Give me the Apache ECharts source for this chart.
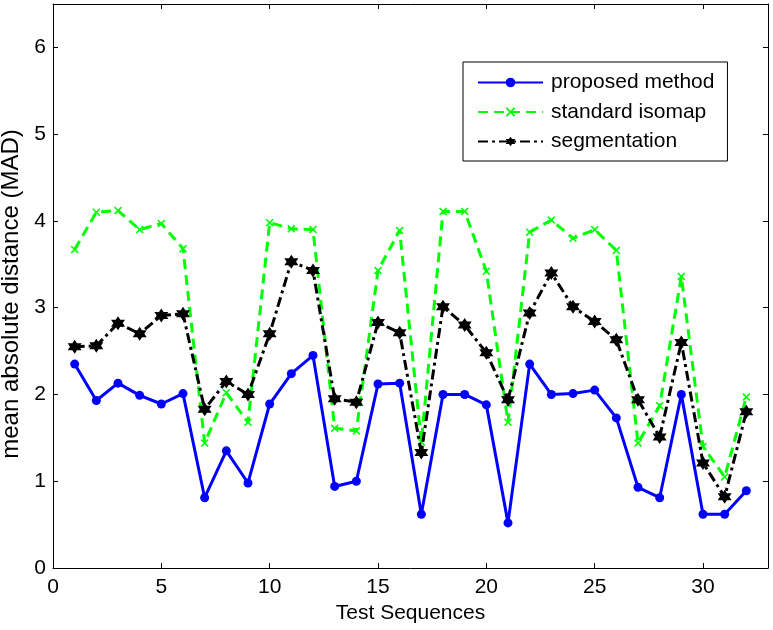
<!DOCTYPE html>
<html>
<head>
<meta charset="utf-8">
<script src="https://cdn.jsdelivr.net/npm/echarts@6/dist/echarts.min.js"></script>
<style>html,body{margin:0;padding:0;background:#fff;}#chart{width:773px;height:630px;}</style>
</head>
<body>
<div id="chart"></div>
<script>
const seqs = [1,2,3,4,5,6,7,8,9,10,11,12,13,14,15,16,17,18,19,20,21,22,23,24,25,26,27,28,29,30,31,32];
const proposed = [2.35,1.93,2.13,1.99,1.89,2.01,0.81,1.35,0.98,1.89,2.24,2.45,0.94,1.00,2.12,2.13,0.62,2.00,2.00,1.88,0.52,2.35,2.00,2.01,2.05,1.73,0.93,0.81,2.00,0.62,0.62,0.89];
const isomap = [3.67,4.10,4.12,3.90,3.97,3.68,1.44,2.02,1.68,3.98,3.91,3.90,1.61,1.58,3.43,3.89,1.45,4.11,4.11,3.42,1.68,3.87,4.01,3.80,3.90,3.66,1.44,1.87,3.36,1.40,1.05,1.97];
const segmentation = [2.55,2.56,2.82,2.70,2.91,2.93,1.83,2.15,2.00,2.70,3.53,3.43,1.95,1.91,2.83,2.71,1.33,3.01,2.80,2.48,1.94,2.94,3.40,3.01,2.84,2.63,1.94,1.51,2.60,1.21,0.82,1.80];
const seriesNames = ['proposed method','standard isomap','segmentation'];
const xTicks = {min:0, max:33, interval:5};
const yTicks = {min:0, max:6.5, interval:1};

const font = '"Liberation Sans", Arial, Helvetica, sans-serif';
const pair = arr => seqs.map((x,i)=>[x,arr[i]]);
const xSym = 'path://M0,1.4L1.4,0L5,3.6L8.6,0L10,1.4L6.4,5L10,8.6L8.6,10L5,6.4L1.4,10L0,8.6L3.6,5Z';
const hexSym = 'path://M10,0L12.89,5L18.66,5L15.77,10L18.66,15L12.89,15L10,20L7.11,15L1.34,15L4.23,10L1.34,5L7.11,5Z';

const axisCommon = {
  axisLine:{show:true, onZero:false, lineStyle:{color:'#000', width:1}},
  axisTick:{show:true, inside:true, length:5, lineStyle:{color:'#000'}},
  splitLine:{show:false}
};

const chart = echarts.init(document.getElementById('chart'));
chart.setOption({
  backgroundColor:'#fff',
  animation:false,
  textStyle:{fontFamily:font},
  grid:{left:53, right:5, top:4, bottom:62, containLabel:false, outerBoundsMode:'none'},
  legend:{
    orient:'vertical', left:463, top:62,
    padding:[10,13,9,14],
    borderColor:'#000', borderWidth:1, borderRadius:0,
    backgroundColor:'#fff',
    itemWidth:65, itemHeight:12, itemGap:8.5,
    textStyle:{fontSize:21, color:'#000', fontFamily:font, lineHeight:20, padding:[0,0,0,3]},
    data:seriesNames
  },
  xAxis:[
    Object.assign({type:'value', position:'bottom', min:xTicks.min, max:xTicks.max, interval:xTicks.interval,
      name:'Test Sequences', nameLocation:'middle', nameGap:35,
      nameTextStyle:{fontSize:21, color:'#000', fontFamily:font},
      axisLabel:{fontSize:21, color:'#000', fontFamily:font, margin:9, showMaxLabel:false}}, axisCommon),
    Object.assign({type:'value', position:'top', min:xTicks.min, max:xTicks.max, interval:xTicks.interval,
      axisLabel:{show:false}}, axisCommon)
  ],
  yAxis:[
    Object.assign({type:'value', position:'left', min:yTicks.min, max:yTicks.max, interval:yTicks.interval,
      name:'mean absolute distance (MAD)', nameLocation:'middle', nameGap:29,
      nameTextStyle:{fontSize:24, color:'#000', fontFamily:font, padding:[0,16,0,0]},
      axisLabel:{fontSize:21, color:'#000', fontFamily:font, margin:7, showMaxLabel:false}}, axisCommon),
    Object.assign({type:'value', position:'right', min:yTicks.min, max:yTicks.max, interval:yTicks.interval,
      axisLabel:{show:false}}, axisCommon)
  ],
  series:[
    {name:seriesNames[0], type:'line', data:pair(proposed), symbol:'circle', symbolSize:9,
      itemStyle:{color:'#0000ff'}, lineStyle:{color:'#0000ff', width:3}, z:3},
    {name:seriesNames[1], type:'line', data:pair(isomap), symbol:xSym, symbolSize:8,
      itemStyle:{color:'#00ff00'}, lineStyle:{color:'#00ff00', width:3, type:[10,6]}, z:2},
    {name:seriesNames[2], type:'line', data:pair(segmentation), symbol:hexSym, symbolSize:14,
      itemStyle:{color:'#000'}, lineStyle:{color:'#000', width:3, type:[10,4,3,4]}, z:4}
  ]
});
</script>
</body>
</html>
